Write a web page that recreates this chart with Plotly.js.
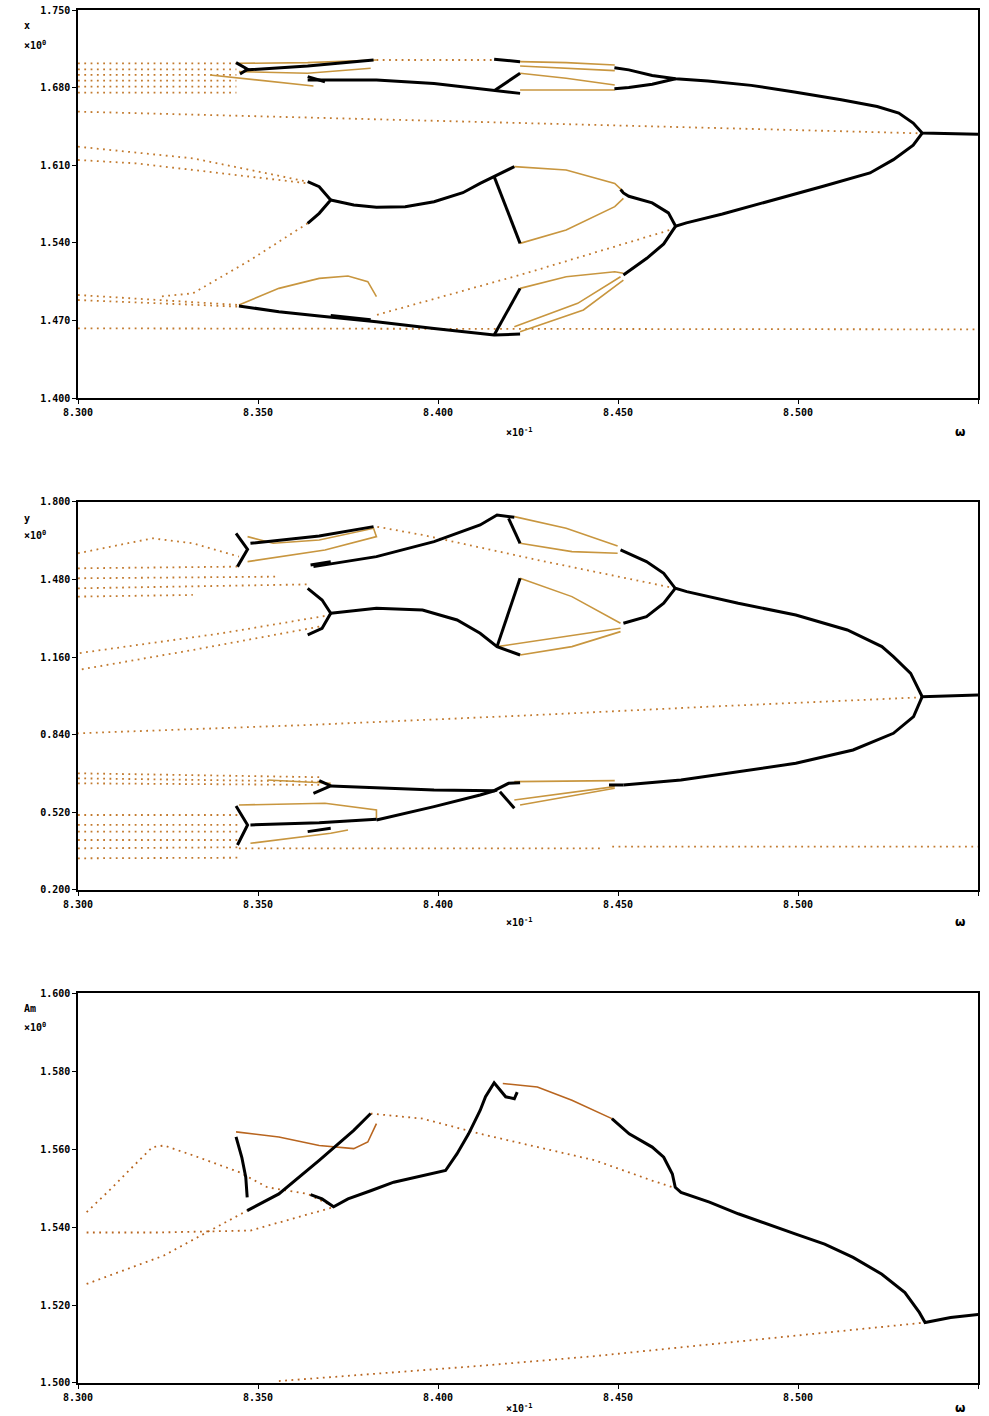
<!DOCTYPE html>
<html><head><meta charset="utf-8">
<script src="https://cdn.plot.ly/plotly-3.0.1.min.js"></script>
<style>html,body{margin:0;padding:0;background:#fff}#chart{width:989px;height:1416px}</style>
</head><body><div id="chart"></div>
<script>
// ---------- tick values ----------
const xTicks = [8.30, 8.35, 8.40, 8.45, 8.50, 8.55];
const topTicks = [1.40, 1.47, 1.54, 1.61, 1.68, 1.75];
const midTicks = [0.20, 0.52, 0.84, 1.16, 1.48, 1.80];
const botTicks = [1.50, 1.52, 1.54, 1.56, 1.58, 1.60];
const yLabels = ["x", "y", "Am"];

// ---------- TOP PANEL ----------
const topStableX = [8.550,8.5345,8.532,8.528,8.522,8.512,8.499,8.487,8.475,8.466,8.4595,8.453,8.449,null,
  8.466,8.4595,8.453,8.449,null,
  8.5345,8.532,8.5265,8.520,8.507,8.491,8.479,8.469,8.466,8.464,8.4595,8.453,8.4515,8.4507,null,
  8.466,8.4627,8.458,8.453,8.4515,null,
  8.3702,8.3766,8.3829,8.3909,8.3989,8.4069,8.4117,8.4156,8.4212,null,
  8.4156,8.4228,null,
  8.3638,8.367,8.3702,8.367,8.3638,null,
  8.3447,8.3558,8.367,8.3829,8.3989,8.4156,8.4228,null,
  8.4228,8.4156,null,
  8.3463,8.3638,8.3821,null,
  8.4156,8.4228,null,
  8.3638,8.3829,8.3989,8.4156,8.4228,null,
  8.4156,8.4228,null,
  8.3439,8.3471,8.345,null,
  8.3638,8.3686,null,
  8.3702,8.3813];
const topStableY = [1.638,1.639,1.648,1.657,1.663,1.669,1.676,1.682,1.686,1.688,1.691,1.696,1.698,null,
  1.688,1.683,1.680,1.679,null,
  1.639,1.628,1.615,1.603,1.591,1.577,1.566,1.558,1.555,1.567,1.576,1.582,1.585,1.588,null,
  1.555,1.539,1.526,1.514,1.511,null,
  1.5786,1.5741,1.5720,1.5726,1.5771,1.5852,1.5936,1.5997,1.6087,null,
  1.5997,1.5395,null,
  1.5951,1.5906,1.5786,1.5666,1.5576,null,
  1.483,1.4779,1.474,1.4688,1.4628,1.4568,1.4577,null,
  1.4989,1.4568,null,
  1.6959,1.6995,1.7049,null,
  1.7055,1.7034,null,
  1.6869,1.6869,1.6838,1.6772,1.6748,null,
  1.6772,1.6929,null,
  1.7025,1.6965,1.6923,null,
  1.6899,1.6853,null,
  1.4745,1.4705];
const topDotX = [8.300,8.3479,8.3957,8.4595,8.4994,8.5345,null,
  8.3829,8.4156,null,
  8.300,8.344,null, 8.300,8.344,null, 8.300,8.344,null, 8.300,8.344,null, 8.300,8.344,null, 8.300,8.344,null,
  8.300,8.3319,8.3479,8.3638,null,
  8.300,8.316,8.3399,8.3638,null,
  8.3638,8.3479,8.3319,8.3223,null,
  8.4659,8.4244,8.3829,null,
  8.300,8.550,null,
  8.300,8.3447,null,
  8.300,8.3447];
const topDotY = [1.6583,1.6544,1.6508,1.6454,1.6417,1.6387,null,
  1.7049,1.7049,null,
  1.7019,1.7019,null, 1.6965,1.6965,null, 1.6914,1.6914,null, 1.6863,1.6863,null, 1.6808,1.6808,null, 1.6754,1.6754,null,
  1.6267,1.6162,1.6057,1.5951,null,
  1.6147,1.6117,1.6027,1.5936,null,
  1.5576,1.5245,1.4944,1.4914,null,
  1.553,1.5125,1.4749,null,
  1.4628,1.4619,null,
  1.4929,1.4839,null,
  1.4884,1.4824];
const topTanX = [8.3447,8.3558,8.367,8.375,8.3805,8.3829,null,
  8.4212,8.4356,8.4491,8.4515,null,
  8.4228,8.4356,8.4491,8.4515,null,
  8.4228,8.4356,8.4491,8.4515,null,
  8.4228,8.4404,8.4515,null,
  8.4212,8.4388,8.4507,null,
  8.4228,8.4356,8.4491,null,
  8.4228,8.4356,8.4491,null,
  8.4228,8.4356,8.4491,null,
  8.4228,8.4491,null,
  8.3447,8.3638,8.3829,null,
  8.3367,8.3654,null,
  8.3447,8.3638,8.3813];
const topTanY = [1.4839,1.4989,1.5079,1.510,1.5049,1.4914,null,
  1.6087,1.6057,1.5936,1.5861,null,
  1.5395,1.5515,1.5726,1.5801,null,
  1.4989,1.5094,1.5139,1.5125,null,
  1.4598,1.4794,1.5064,null,
  1.4643,1.4854,1.5094,null,
  1.7034,1.7025,1.7004,null,
  1.6995,1.6974,1.6953,null,
  1.6929,1.6884,1.6823,null,
  1.6778,1.6778,null,
  1.7019,1.7025,1.7049,null,
  1.6914,1.6814,null,
  1.6944,1.6929,1.6974];

// ---------- MIDDLE PANEL ----------
const midStableX = [8.550,8.5345,8.5313,8.5265,8.5233,8.5137,8.4994,8.4834,8.4691,8.4659,8.4627,8.4579,8.4507,null,
  8.4659,8.4627,8.4579,8.4515,null,
  8.5345,8.5321,8.5265,8.5153,8.4994,8.4834,8.4675,8.4515,null,
  8.3654,8.3829,8.3989,8.4117,8.4164,8.4212,null,
  8.4196,8.4228,null,
  8.3479,8.367,8.3821,null,
  8.3439,8.3471,8.3443,null,
  8.3646,8.3702,null,
  8.3638,8.3678,8.3702,8.3678,8.3638,null,
  8.3702,8.3829,8.3957,8.4053,8.4117,8.4164,8.4228,null,
  8.4228,8.4164,null,
  8.3702,8.3989,8.4156,8.4196,8.4228,null,
  8.4172,8.4212,null,
  8.3829,8.3989,8.4117,8.4164,null,
  8.367,8.3702,8.3654,null,
  8.3439,8.3471,8.3443,null,
  8.3479,8.367,8.3829,null,
  8.3638,8.3702,null,
  8.4475,8.4515];
const midStableY = [1.0041,0.9972,1.0934,1.1621,1.2034,1.2721,1.3340,1.3821,1.4302,1.4439,1.5058,1.5539,1.6020,null,
  1.4439,1.3821,1.3271,1.2996,null,
  0.9972,0.9147,0.8460,0.7773,0.7223,0.6879,0.6535,0.6329,null,
  1.5333,1.5745,1.6364,1.7051,1.7463,1.7367,null,
  1.7326,1.6295,null,
  1.6295,1.6597,1.6982,null,
  1.6707,1.6048,1.5333,null,
  1.5402,1.5539,null,
  1.4439,1.3958,1.3408,1.2790,1.2515,null,
  1.3408,1.3615,1.3546,1.3133,1.2584,1.2034,1.1690,null,
  1.4852,1.2034,null,
  0.6288,0.6123,0.6095,0.6398,0.6425,null,
  0.6054,0.5367,null,
  0.4886,0.5436,0.5917,0.6123,null,
  0.6508,0.6288,0.5986,null,
  0.5463,0.4680,0.3855,null,
  0.4680,0.4776,0.4913,null,
  0.4405,0.4542,null,
  0.6329,0.6329];
const midDotX = [8.5345,8.4754,8.4276,8.3638,8.300,null,
  8.4659,8.4276,8.3957,8.3829,null,
  8.300,8.3207,8.3319,8.3447,null,
  8.300,8.3447,null, 8.300,8.3558,null, 8.300,8.3638,null, 8.300,8.3319,null,
  8.3702,8.3399,8.300,null,
  8.367,8.3319,8.300,null,
  8.300,8.367,null, 8.300,8.367,null, 8.300,8.367,null,
  8.300,8.3447,null, 8.300,8.3447,null, 8.300,8.3447,null, 8.300,8.3447,null, 8.300,8.3447,null,
  8.3447,8.4452,null,
  8.4484,8.550,null,
  8.300,8.3447];
const midDotY = [0.9944,0.9559,0.9216,0.8803,0.8460,null,
  1.4439,1.5608,1.6639,1.6982,null,
  1.5883,1.6501,1.6295,1.5745,null,
  1.5264,1.5333,null, 1.4852,1.4920,null, 1.4439,1.4600,null, 1.4096,1.4165,null,
  1.3340,1.2584,1.1759,null,
  1.2858,1.1896,1.1071,null,
  0.6810,0.6650,null, 0.6604,0.6470,null, 0.6398,0.6330,null,
  0.5092,0.5092,null, 0.4680,0.4680,null, 0.4405,0.4405,null, 0.4061,0.4061,null, 0.3717,0.3760,null,
  0.3717,0.3717,null,
  0.3786,0.3786,null,
  0.3305,0.3330];
const midTanX = [8.4212,8.4356,8.4499,null,
  8.4228,8.4372,8.4499,null,
  8.4228,8.4372,8.4507,null,
  8.4164,8.4356,8.4507,null,
  8.4228,8.4372,8.4507,null,
  8.3471,8.3542,8.367,8.3821,8.3829,8.3686,8.3471,null,
  8.4212,8.4491,null,
  8.4212,8.4356,8.4491,null,
  8.4228,8.4491,null,
  8.3447,8.3686,8.3829,8.3829,null,
  8.3479,8.3702,8.375,null,
  8.3526,8.3702];
const midTanY = [1.7395,1.6913,1.6185,null,
  1.6295,1.5951,1.5883,null,
  1.4852,1.4096,1.2996,null,
  1.2034,1.2446,1.2790,null,
  1.1690,1.2034,1.2652,null,
  1.6570,1.6295,1.6433,1.6913,1.6570,1.6020,1.5539,null,
  0.6467,0.6508,null,
  0.5711,0.5986,0.6260,null,
  0.5504,0.6191,null,
  0.5504,0.5573,0.5298,0.4955,null,
  0.3923,0.4336,0.4473,null,
  0.6535,0.6398];

// ---------- BOTTOM PANEL ----------
const botStableX = [8.5501,8.5424,8.5353,8.5337,8.5297,8.5233,8.5153,8.5074,8.4994,8.4914,8.4834,8.4754,8.4675,8.4659,8.4651,8.4627,8.4595,8.4531,8.4483,null,
  8.422,8.4212,8.4188,8.4156,8.4132,8.4117,8.4085,8.4053,8.4021,8.3957,8.3877,8.3813,8.375,8.371,8.3678,8.3646,null,
  8.347,8.3558,8.367,8.3766,8.3813,null,
  8.3439,8.3455,8.3466,8.347];
const botStableY = [1.5176,1.5168,1.5155,1.5181,1.5232,1.5279,1.5322,1.5356,1.5382,1.5408,1.5434,1.5464,1.5489,1.5502,1.5536,1.5579,1.5605,1.5639,1.5678,null,
  1.5746,1.5729,1.5734,1.5770,1.5734,1.5699,1.5639,1.5588,1.5545,1.5532,1.5515,1.5493,1.5472,1.5452,1.5472,1.5483,null,
  1.5442,1.5485,1.5571,1.5648,1.5691,null,
  1.5631,1.5579,1.5528,1.5476];
const botDotX = [8.3813,8.3957,8.4117,8.4276,8.4436,8.4595,8.4659,null,
  8.3024,8.3096,8.316,8.3207,8.3239,8.3319,8.3447,8.3526,8.3638,8.371,null,
  8.3024,8.3223,8.3479,8.3558,8.371,null,
  8.3024,8.3239,8.3367,8.347,null,
  8.3558,8.3798,8.4117,8.4436,8.4754,8.5074,8.5353];
const botDotY = [1.5691,1.5678,1.5639,1.5605,1.5571,1.5519,1.5500,null,
  1.5438,1.5502,1.5562,1.5605,1.5609,1.5584,1.5541,1.5502,1.5485,1.5452,null,
  1.5386,1.5386,1.5391,1.5412,1.5451,null,
  1.5254,1.5327,1.5391,1.5442,null,
  1.5005,1.5022,1.5044,1.5069,1.5098,1.5129,1.5155];
const botTanX = [8.3439,8.3558,8.367,8.3766,8.3805,8.3829,null,
  8.418,8.4276,8.4372,8.4483];
const botTanY = [1.5644,1.5631,1.5609,1.5601,1.5618,1.5665,null,
  1.5768,1.5759,1.5725,1.5678];

// ---------- build ----------
const BLACK = '#000000', DOT = '#c27a2e', TAN = '#c8963f', BDOT = '#b8651f';
function tr(x, y, ax, kind, color) {
  const t = {x: x, y: y, xaxis: 'x' + ax, yaxis: 'y' + ax, mode: 'lines', hoverinfo: 'skip', showlegend: false};
  if (kind === 'stable') t.line = {color: BLACK, width: 3};
  else if (kind === 'dot') t.line = {color: color, width: 1.8, dash: '1.8px,4.5px'};
  else t.line = {color: color, width: 1.6};
  return t;
}
const data = [
  tr(topDotX, topDotY, '', 'dot', DOT), tr(topTanX, topTanY, '', 'tan', TAN), tr(topStableX, topStableY, '', 'stable'),
  tr(midDotX, midDotY, '2', 'dot', DOT), tr(midTanX, midTanY, '2', 'tan', TAN), tr(midStableX, midStableY, '2', 'stable'),
  tr(botDotX, botDotY, '3', 'dot', BDOT), tr(botTanX, botTanY, '3', 'tan', BDOT), tr(botStableX, botStableY, '3', 'stable')
];
const tickFont = {family: 'DejaVu Sans Mono', size: 10, color: '#000', weight: 'bold'};
function xax(anchor) {
  return {range: [8.30, 8.55], tickvals: xTicks, ticktext: xTicks.map(v => v.toFixed(3)),
    ticks: 'outside', ticklen: 4, tickcolor: '#000', showline: true, linecolor: '#000', linewidth: 1.5,
    mirror: true, showgrid: false, zeroline: false, tickfont: tickFont, anchor: anchor};
}
function yax(range, ticks, domain, anchor) {
  return {range: range, tickvals: ticks, ticktext: ticks.map(v => v.toFixed(3)), domain: domain,
    ticks: 'outside', ticklen: 4, tickcolor: '#000', showline: true, linecolor: '#000', linewidth: 1.5,
    mirror: true, showgrid: false, zeroline: false, tickfont: tickFont, anchor: anchor};
}
const annFont = {family: 'DejaVu Sans Mono', size: 10, color: '#000', weight: 'bold'};
const ann = [];
const yPos = [[0.989, 0.9745], [0.630, 0.6177], [0.2731, 0.2593]];
const xPos = [0.6926, 0.3358, -0.0182];
for (let i = 0; i < 3; i++) {
  ann.push({xref: 'paper', yref: 'paper', x: -0.062, y: yPos[i][0], xanchor: 'left', yanchor: 'middle', text: yLabels[i], showarrow: false, font: annFont});
  ann.push({xref: 'paper', yref: 'paper', x: -0.062, y: yPos[i][1], xanchor: 'left', yanchor: 'middle', text: '×10<sup>0</sup>', showarrow: false, font: annFont});
  ann.push({xref: 'paper', yref: 'paper', x: 0.491, y: xPos[i], xanchor: 'center', yanchor: 'middle', text: '×10<sup>-1</sup>', showarrow: false, font: annFont});
  ann.push({xref: 'paper', yref: 'paper', x: 0.98, y: xPos[i], xanchor: 'center', yanchor: 'middle', text: 'ω', showarrow: false, font: {family: 'DejaVu Sans', size: 12, color: '#000', weight: 'bold'}});
}
const layout = {
  width: 989, height: 1416, margin: {l: 78, r: 11, t: 10, b: 33},
  paper_bgcolor: '#ffffff', plot_bgcolor: '#ffffff', showlegend: false,
  xaxis: xax('y'), yaxis: yax([1.40, 1.75], topTicks, [0.7174, 1], 'x'),
  xaxis2: xax('y2'), yaxis2: yax([0.20, 1.80], midTicks, [0.3591, 0.6417], 'x2'),
  xaxis3: xax('y3'), yaxis3: yax([1.50, 1.60], botTicks, [0, 0.2840], 'x3'),
  annotations: ann
};
Plotly.newPlot('chart', data, layout, {displayModeBar: false});
</script></body></html>
